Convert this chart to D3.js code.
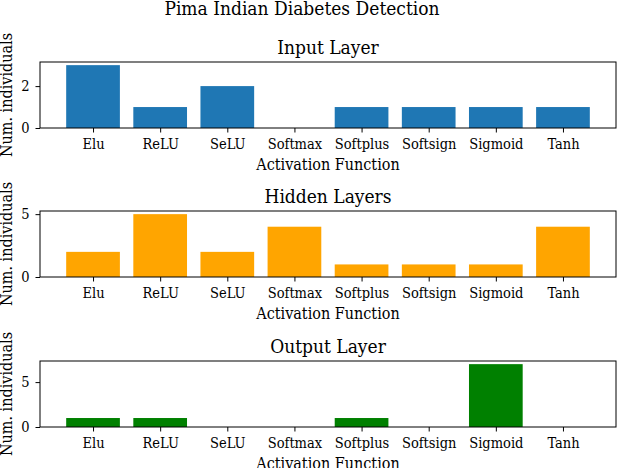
<!DOCTYPE html>
<html>
<head>
<meta charset="utf-8">
<script src="https://cdn.jsdelivr.net/npm/d3@7"></script>
<style>
  body { margin: 0; background: #fff; }
  svg text { font-family: "DejaVu Serif Condensed", "DejaVu Serif", serif; fill: #000; }
</style>
</head>
<body>
<div id="chart"></div>
<script>

var categories = ["Elu", "ReLU", "SeLU", "Softmax", "Softplus", "Softsign", "Sigmoid", "Tanh"];
var inputValues = [3, 1, 2, 0, 1, 1, 1, 1];
var hiddenValues = [2, 5, 2, 4, 1, 1, 1, 4];
var outputValues = [1, 1, 0, 0, 1, 0, 7, 0];
var panelTitles = ["Input Layer", "Hidden Layers", "Output Layer"];
var panelColors = ["#1f77b4", "#ffa500", "#008000"];
var panelTicks = [[0, 2], [0, 5], [0, 5]];

var width = 620, height = 468;
var left = 40, right = 616, panelH = 66;
var panelTops = [62, 211, 361];
var fontFam = "'DejaVu Serif Condensed', 'DejaVu Serif', serif";

var svg = d3.select("#chart").append("svg")
    .attr("width", width)
    .attr("height", height);

svg.append("text")
    .attr("x", 302)
    .attr("y", 15)
    .attr("text-anchor", "middle")
    .style("font-size", "19px")
    .text("Pima Indian Diabetes Detection");

var x = d3.scaleLinear()
    .domain([-0.79, categories.length - 1 + 0.79])
    .range([left, right]);

[inputValues, hiddenValues, outputValues].forEach(function(values, p) {
  var top = panelTops[p];
  var g = svg.append("g");

  var y = d3.scaleLinear()
      .domain([0, d3.max(values) * 1.05])
      .range([top + panelH, top]);

  g.selectAll(".bar")
      .data(values)
    .enter().append("rect")
      .attr("class", "bar")
      .attr("x", function(d, i) { return x(i - 0.4); })
      .attr("width", function(d, i) { return x(i + 0.4) - x(i - 0.4); })
      .attr("y", function(d) { return y(d); })
      .attr("height", function(d) { return y(0) - y(d); })
      .style("fill", panelColors[p]);

  var xAxis = g.append("g")
      .attr("transform", "translate(0," + (top + panelH) + ")")
      .call(d3.axisBottom(x)
        .tickValues(d3.range(categories.length))
        .tickFormat(function(i) { return categories[i]; })
        .tickSize(4.5)
        .tickPadding(6));
  xAxis.select(".domain").remove();
  xAxis.selectAll("line").style("stroke", "#000");
  xAxis.selectAll("text").style("font-size", "14.5px").style("font-family", fontFam);

  var yAxis = g.append("g")
      .attr("transform", "translate(" + left + ",0)")
      .call(d3.axisLeft(y)
        .tickValues(panelTicks[p])
        .tickFormat(d3.format("d"))
        .tickSize(4.5)
        .tickPadding(6));
  yAxis.select(".domain").remove();
  yAxis.selectAll("line").style("stroke", "#000");
  yAxis.selectAll("text").style("font-size", "14.5px").style("font-family", fontFam);

  g.append("rect")
      .attr("x", left)
      .attr("y", top)
      .attr("width", right - left)
      .attr("height", panelH)
      .style("fill", "none")
      .style("stroke", "#000")
      .style("stroke-width", 1);

  g.append("text")
      .attr("x", (left + right) / 2)
      .attr("y", top - 8)
      .attr("text-anchor", "middle")
      .style("font-size", "19px")
      .text(panelTitles[p]);

  g.append("text")
      .attr("x", (left + right) / 2)
      .attr("y", top + panelH + 42)
      .attr("text-anchor", "middle")
      .style("font-size", "16px")
      .text("Activation Function");

  g.append("text")
      .attr("transform", "translate(12," + (top + panelH / 2) + ") rotate(-90)")
      .attr("text-anchor", "middle")
      .style("font-size", "16px")
      .text("Num. individuals");
});
</script>
</body>
</html>
